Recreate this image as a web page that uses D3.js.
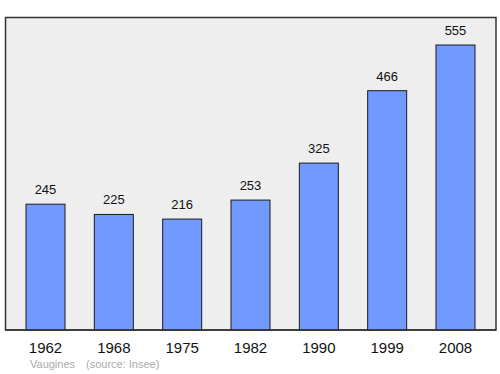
<!DOCTYPE html>
<html>
<head>
<meta charset="utf-8">
<script src="https://cdn.jsdelivr.net/npm/d3@7"></script>
<style>
    body { margin: 0; background: #fff; }
    svg { display: block; font-family: "Liberation Sans", Arial, sans-serif; }
</style>
</head>
<body>
<svg id="chart" width="500" height="374"></svg>
<script>
// population by census year
const years = ["1962", "1968", "1975", "1982", "1990", "1999", "2008"]
const population = [245, 225, 216, 253, 325, 466, 555]
const place = "Vaugines"
const source = "(source: Insee)"

let svg = d3.select("#chart")

let frame = { left: 5.5, top: 17.5, right: 496, bottom: 330 }

svg.append("rect")
    .attr("x", frame.left)
    .attr("y", frame.top)
    .attr("width", frame.right - frame.left)
    .attr("height", frame.bottom - frame.top)
    .attr("fill", "#eeeeee")
    .attr("stroke", "#333")
    .attr("stroke-width", 1.5)

let x = d3.scalePoint().domain(years).range([45.5, 455.5])
let y = d3.scaleLinear().domain([0, 555]).range([frame.bottom, 45])
let barWidth = 39

let bars = svg.append("g").selectAll("g")
    .data(years.map((yr, i) => ({ year: yr, value: population[i] })))
    .enter()
    .append("g")

bars.append("rect")
    .attr("x", (d) => x(d.year) - barWidth / 2)
    .attr("y", (d) => y(d.value))
    .attr("width", barWidth)
    .attr("height", (d) => frame.bottom - y(d.value))
    .attr("fill", "#7299ff")
    .attr("stroke", "#1a1a1a")
    .attr("stroke-width", 1)

bars.append("text")
    .attr("x", (d) => x(d.year))
    .attr("y", (d) => y(d.value) - 10)
    .attr("text-anchor", "middle")
    .attr("font-size", 13)
    .attr("fill", "#111")
    .text((d) => d.value)

bars.append("text")
    .attr("x", (d) => x(d.year))
    .attr("y", 353)
    .attr("text-anchor", "middle")
    .attr("font-size", 15)
    .attr("fill", "#111")
    .text((d) => d.year)

// redraw the baseline on top of the bars
svg.append("line")
    .attr("x1", frame.left)
    .attr("x2", frame.right)
    .attr("y1", frame.bottom)
    .attr("y2", frame.bottom)
    .attr("stroke", "#333")
    .attr("stroke-width", 1.5)

svg.append("text")
    .attr("x", 30)
    .attr("y", 368)
    .attr("font-size", 11)
    .attr("fill", "#aaa")
    .text(place)

svg.append("text")
    .attr("x", 86)
    .attr("y", 368)
    .attr("font-size", 11)
    .attr("fill", "#aaa")
    .text(source)
</script>
</body>
</html>
